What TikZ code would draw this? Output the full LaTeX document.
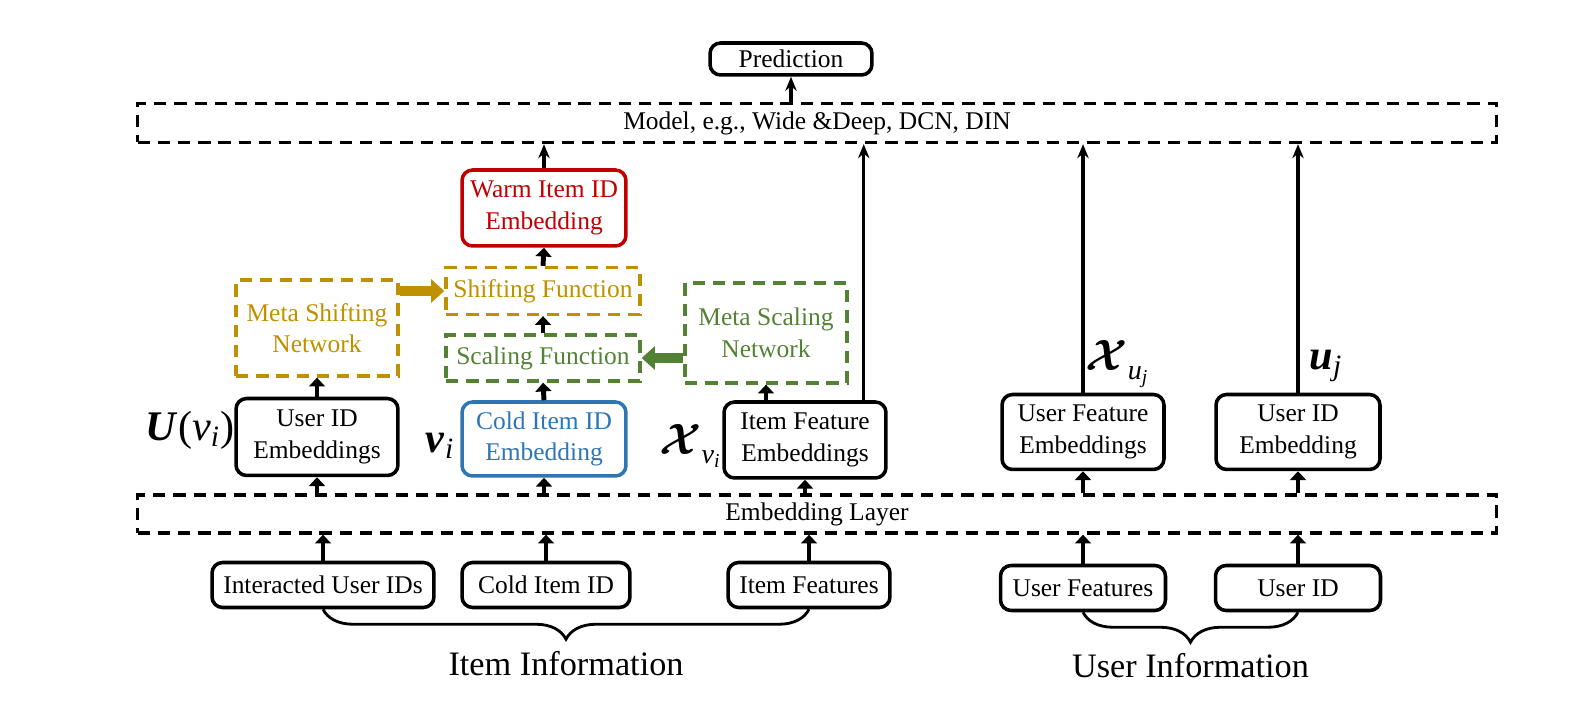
\documentclass[tikz,border=0pt]{standalone}
\usepackage{amsmath}
\usepackage{fontspec}
\setmainfont{Liberation Serif}
\usetikzlibrary{positioning,arrows.meta,decorations.pathreplacing}

\definecolor{warmred}{HTML}{C00000}
\definecolor{coldblue}{HTML}{2E75B6}
\definecolor{shiftgold}{HTML}{BF9000}
\definecolor{scalegreen}{HTML}{548235}

\newcommand{\chisym}{$\boldsymbol{\mathcal{X}}$}
\newcommand{\lowsub}[1]{\raisebox{-5pt}{\fontsize{16}{16}\selectfont #1}}

\tikzset{
  box/.style={draw, line width=2pt, rounded corners=6pt, align=center, inner sep=1pt,
    font=\fontsize{14.5}{18}\selectfont},
  dashbox/.style={draw, line width=1.9pt, dash pattern=on 7pt off 4.5pt, align=center, inner sep=1pt,
    font=\fontsize{14.5}{18}\selectfont},
  thickarrow/.style={line width=2.8pt, -{Triangle[length=5pt,width=9pt]}},
  thinarrow/.style={line width=1.9pt, -{Stealth[length=8pt,width=6.5pt]}},
  widearrow/.style={line width=6pt, -{Triangle[length=7.5pt,width=13pt]}},
  mathlabel/.style={font=\fontsize{24}{28}\selectfont},
}

\begin{document}
\begin{tikzpicture}[x=0.02cm, y=-0.02cm]
  \useasboundingbox (0,0) rectangle (1580,702);
  % Top: model and prediction
  \node[box, minimum width=3.24cm, minimum height=0.64cm] (prediction) at (791,59) {Prediction};
  \node[dashbox, minimum width=27.18cm, minimum height=0.78cm] (model) at (817,123) {Model, e.g., Wide \&Deep, DCN, DIN};
  % Meta networks and functions
  \node[box, draw=warmred, text=warmred, minimum width=3.28cm, minimum height=1.52cm] (warm) at (544,208) {Warm Item ID\\Embedding};
  \node[dashbox, draw=shiftgold, text=shiftgold, minimum width=3.88cm, minimum height=0.94cm] (shift) at (543,291) {Shifting Function};
  \node[dashbox, draw=scalegreen, text=scalegreen, minimum width=3.88cm, minimum height=0.92cm] (scale) at (543,358) {Scaling Function};
  \node[dashbox, draw=shiftgold, text=shiftgold, minimum width=3.24cm, minimum height=1.92cm] (metashift) at (317,328) {Meta Shifting\\Network};
  \node[dashbox, draw=scalegreen, text=scalegreen, minimum width=3.24cm, minimum height=2.0cm] (metascale) at (766,333) {Meta Scaling\\Network};
  % Embeddings
  \node[box, minimum width=3.24cm, minimum height=1.54cm] (uidemb) at (317,437) {User ID\\Embeddings};
  \node[box, draw=coldblue, text=coldblue, minimum width=3.28cm, minimum height=1.48cm] (coldemb) at (544,439) {Cold Item ID\\Embedding};
  \node[box, minimum width=3.24cm, minimum height=1.52cm] (itemfeatemb) at (805,440) {Item Feature\\Embeddings};
  \node[box, minimum width=3.24cm, minimum height=1.5cm] (userfeatemb) at (1083,432) {User Feature\\Embeddings};
  \node[box, minimum width=3.28cm, minimum height=1.5cm] (useridemb) at (1298,432) {User ID\\Embedding};
  \node[dashbox, minimum width=27.18cm, minimum height=0.76cm] (emblayer) at (817,514) {Embedding Layer};
  % Inputs
  \node[box, minimum width=4.44cm, minimum height=0.9cm] (interacted) at (323,585) {Interacted User IDs};
  \node[box, minimum width=3.36cm, minimum height=0.9cm] (colditem) at (546,585) {Cold Item ID};
  \node[box, minimum width=3.24cm, minimum height=0.9cm] (itemfeat) at (809,585) {Item Features};
  \node[box, minimum width=3.3cm, minimum height=0.9cm] (userfeat) at (1083,588) {User Features};
  \node[box, minimum width=3.3cm, minimum height=0.9cm] (userid) at (1298,588) {User ID};
  % Symbols
  \node[mathlabel] (uvlabel) at (190,430) {\textbf{\textit{U}}(\textit{v}\textsubscript{\textit{i}})};
  \node[mathlabel] (vlabel) at (440,446) {\textbf{\textit{v}}\textsubscript{\textit{i}}};
  \node[mathlabel] (xvlabel) at (690,446) {\chisym\lowsub{\textit{v}\textsubscript{\textit{i}}}};
  \node[mathlabel] (xulabel) at (1117,364) {\chisym\lowsub{\textit{u}\textsubscript{\textit{j}}}};
  \node[mathlabel] (ulabel) at (1326,366) {\textbf{\textit{u}}\textsubscript{\textit{j}}};
  % Arrows through the embedding layer
  \foreach \n in {interacted, colditem, itemfeat, userfeat, userid}
    \draw[thickarrow] (\n.north) -- (\n.north |- emblayer.south);
  \foreach \n in {uidemb, coldemb, itemfeatemb, userfeatemb, useridemb}
    \draw[thickarrow] (\n.south |- emblayer.north) -- (\n.south);
  % Arrows into meta networks and functions
  \draw[thickarrow] (uidemb.north) -- (metashift.south);
  \draw[thickarrow] (coldemb.north) -- (scale.south);
  \draw[thickarrow] (metascale.south |- itemfeatemb.north) -- (metascale.south);
  \draw[thickarrow] (scale.north) -- (shift.south);
  \draw[thickarrow] (shift.north) -- (warm.south);
  \draw[widearrow, shiftgold] (metashift.east |- shift.west) -- (shift.west);
  \draw[widearrow, scalegreen] (metascale.west |- scale.east) -- (scale.east);
  % Arrows into the model
  \draw[thinarrow] (warm.north) -- (warm.north |- model.south);
  \draw[thinarrow] ([xshift=-0.48cm]itemfeatemb.north east) -- ([xshift=-0.48cm]itemfeatemb.north east |- model.south);
  \draw[thinarrow] (userfeatemb.north) -- (userfeatemb.north |- model.south);
  \draw[thinarrow] (useridemb.north) -- (useridemb.north |- model.south);
  \draw[thinarrow] (prediction.south |- model.north) -- (prediction.south);
  % Braces
  \draw[line width=1.6pt, decorate, decoration={brace, mirror, amplitude=0.6cm}] (interacted.south) -- (itemfeat.south |- interacted.south)
    node[midway, below=0.7cm, font=\fontsize{19.5}{22}\selectfont] (iteminfo) {Item Information};
  \draw[line width=1.6pt, decorate, decoration={brace, mirror, amplitude=0.6cm}] (userfeat.south) -- (userid.south)
    node[midway, below=0.68cm, font=\fontsize{19.5}{22}\selectfont] (userinfo) {User Information};
\end{tikzpicture}
\end{document}
